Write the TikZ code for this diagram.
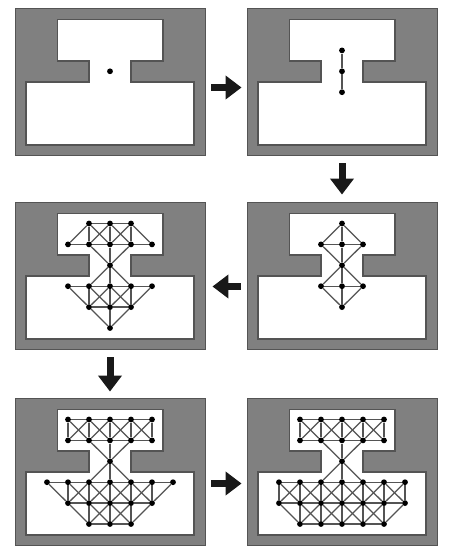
\documentclass[tikz,border=0pt]{standalone}
\usepackage{xcolor}
\usepackage{tikz}
\usetikzlibrary{arrows.meta}
\definecolor{wallgray}{gray}{0.5}
\definecolor{edgegray}{gray}{0.33}
\definecolor{meshgray}{gray}{0.33}
\tikzset{
	panelbox/.style={draw=edgegray,fill=wallgray,line width=0.9,minimum width=190,minimum height=147,inner sep=0},
	roomline/.style={draw=edgegray,fill=white,line width=1.1,line join=miter},
	meshline/.style={draw=meshgray,line width=1.25},
	meshdot/.style={circle,fill=black,inner sep=0,minimum size=5.8},
	blockarrow/.style={draw=black!90,line width=7,-{Triangle[length=16,width=23,fill=black!90]}}
}
% one room shape, every panel has it
\newcommand{\RoomShape}{
	\node[panelbox] (box) at (110,81.5) {};
	\draw[roomline] (57.5,19.5) -- (163,19.5) -- (163,61) -- (131,61) -- (131,82) -- (194,82)
		-- (194,145) -- (26,145) -- (26,82) -- (89,82) -- (89,61) -- (57.5,61) -- cycle;
}
% dots of one row: row, first column, last column
\newcommand{\RowDots}[3]{
	\foreach \c in {#2,...,#3}
		\node[meshdot] (n\c-#1) at ({47+21*\c},{29.5+20.9*#1}) {};
}
% horizontal edges
\newcommand{\RowLinks}[3]{
	\foreach \c [evaluate=\c as \d using int(\c+1)] in {#2,...,#3}
		\draw[meshline] (n\c-#1) -- (n\d-#1);
}
% vertical edges from row #1 to row #2
\newcommand{\ColLinks}[4]{
	\foreach \c in {#3,...,#4}
		\draw[meshline] (n\c-#1) -- (n\c-#2);
}
% crossed cells from row #1 to row #2
\newcommand{\CrossLinks}[4]{
	\foreach \c [evaluate=\c as \d using int(\c+1)] in {#3,...,#4} {
		\draw[meshline] (n\c-#1) -- (n\d-#2);
		\draw[meshline] (n\d-#1) -- (n\c-#2);
	}
}
\newcommand{\PairLinks}[1]{
	\foreach \a/\b in {#1}
		\draw[meshline] (n\a) -- (n\b);
}
\begin{document}
\begin{tikzpicture}[x=1pt,y=-1pt]
	\useasboundingbox (0,0) rectangle (451,552);
	
	% first panel
	\begin{scope}[name prefix=pa-]
		\RoomShape
		\RowDots{2}{3}{3}
	\end{scope}
	
	% second panel
	\begin{scope}[shift={(232,0)},name prefix=pb-]
		\RoomShape
		\RowDots{1}{3}{3}
		\RowDots{2}{3}{3}
		\RowDots{3}{3}{3}
		\PairLinks{3-1/3-2,3-2/3-3}
	\end{scope}
	
	% right panel, second row
	\begin{scope}[shift={(232,194)},name prefix=pc-]
		\RoomShape
		\RowDots{0}{3}{3}
		\RowDots{1}{2}{4}
		\RowDots{2}{3}{3}
		\RowDots{3}{2}{4}
		\RowDots{4}{3}{3}
		\RowLinks{1}{2}{3}
		\RowLinks{3}{2}{3}
		\PairLinks{3-0/2-1,3-0/3-1,3-0/4-1,2-1/3-2,3-1/3-2,4-1/3-2}
		\PairLinks{3-2/2-3,3-2/3-3,3-2/4-3,2-3/3-4,3-3/3-4,4-3/3-4}
	\end{scope}
	
	% left panel, second row
	\begin{scope}[shift={(0,194)},name prefix=pd-]
		\RoomShape
		\RowDots{0}{2}{4}
		\RowDots{1}{1}{5}
		\RowDots{2}{3}{3}
		\RowDots{3}{1}{5}
		\RowDots{4}{2}{4}
		\RowDots{5}{3}{3}
		\RowLinks{0}{2}{3}
		\RowLinks{1}{1}{4}
		\RowLinks{3}{1}{4}
		\RowLinks{4}{2}{3}
		\ColLinks{0}{1}{2}{4}
		\ColLinks{3}{4}{2}{4}
		\CrossLinks{0}{1}{2}{3}
		\CrossLinks{3}{4}{2}{3}
		\PairLinks{2-0/1-1,4-0/5-1,2-1/3-2,3-1/3-2,4-1/3-2}
		\PairLinks{3-2/2-3,3-2/3-3,3-2/4-3,1-3/2-4,5-3/4-4,2-4/3-5,3-4/3-5,4-4/3-5}
	\end{scope}
	
	% left panel, third row
	\begin{scope}[shift={(0,390)},name prefix=pe-]
		\RoomShape
		\RowDots{0}{1}{5}
		\RowDots{1}{1}{5}
		\RowDots{2}{3}{3}
		\RowDots{3}{0}{6}
		\RowDots{4}{1}{5}
		\RowDots{5}{2}{4}
		\RowLinks{0}{1}{4}
		\RowLinks{1}{1}{4}
		\RowLinks{3}{0}{5}
		\RowLinks{4}{1}{4}
		\RowLinks{5}{2}{3}
		\ColLinks{0}{1}{1}{5}
		\ColLinks{3}{4}{1}{5}
		\ColLinks{4}{5}{2}{4}
		\CrossLinks{0}{1}{1}{4}
		\CrossLinks{3}{4}{1}{4}
		\CrossLinks{4}{5}{2}{3}
		\PairLinks{2-1/3-2,3-1/3-2,4-1/3-2,3-2/2-3,3-2/3-3,3-2/4-3}
		\PairLinks{0-3/1-4,6-3/5-4,1-4/2-5,5-4/4-5}
	\end{scope}
	
	% right panel, third row
	\begin{scope}[shift={(232,390)},name prefix=pf-]
		\RoomShape
		\RowDots{0}{1}{5}
		\RowDots{1}{1}{5}
		\RowDots{2}{3}{3}
		\RowDots{3}{0}{6}
		\RowDots{4}{0}{6}
		\RowDots{5}{1}{5}
		\RowLinks{0}{1}{4}
		\RowLinks{1}{1}{4}
		\RowLinks{3}{0}{5}
		\RowLinks{4}{0}{5}
		\RowLinks{5}{1}{4}
		\ColLinks{0}{1}{1}{5}
		\ColLinks{3}{4}{0}{6}
		\ColLinks{4}{5}{1}{5}
		\CrossLinks{0}{1}{1}{4}
		\CrossLinks{3}{4}{0}{5}
		\CrossLinks{4}{5}{1}{4}
		\PairLinks{2-1/3-2,3-1/3-2,4-1/3-2,3-2/2-3,3-2/3-3,3-2/4-3}
		\PairLinks{0-4/1-5,6-4/5-5}
	\end{scope}
	
	% arrows between the panels
	\draw[blockarrow,shorten <=6,shorten >=5] ([yshift=-6]pa-box.east) -- ([yshift=-6]pb-box.west);
	\draw[blockarrow,shorten <=8,shorten >=7] (pb-box.south) -- (pc-box.north);
	\draw[blockarrow,shorten <=6,shorten >=7] ([yshift=-11]pc-box.west) -- ([yshift=-11]pd-box.east);
	\draw[blockarrow,shorten <=8,shorten >=6] (pd-box.south) -- (pe-box.north);
	\draw[blockarrow,shorten <=6,shorten >=5] ([yshift=-12]pe-box.east) -- ([yshift=-12]pf-box.west);
\end{tikzpicture}
\end{document}
